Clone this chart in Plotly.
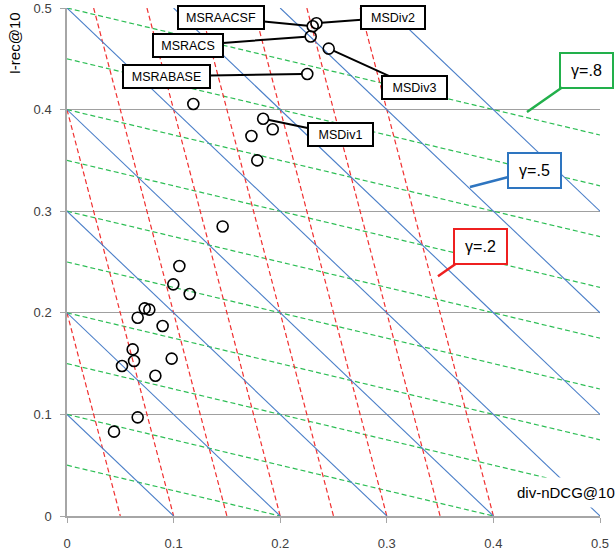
import plotly.graph_objects as go

# ---- data ----
div_ndcg = [0.2305, 0.2340, 0.2286, 0.2455, 0.2254,
            0.1185, 0.1840, 0.1930, 0.1730, 0.1785,
            0.1460, 0.1054, 0.0997, 0.1151,
            0.0729, 0.0772, 0.0663, 0.0897,
            0.0616, 0.0629, 0.0516, 0.0982, 0.0829,
            0.0663, 0.0441]
i_rec = [0.482, 0.485, 0.472, 0.460, 0.435,
         0.4055, 0.391, 0.3806, 0.374, 0.350,
         0.285, 0.246, 0.228, 0.2185,
         0.2044, 0.2031, 0.1952, 0.187,
         0.164, 0.1526, 0.1476, 0.1549, 0.138,
         0.0971, 0.083]

run_names = ["MSRAACSF", "MSDiv2", "MSRACS", "MSDiv3", "MSRABASE", "MSDiv1"]
run_index = [0, 1, 2, 3, 4, 6]

blue_levels = [0.1, 0.2, 0.3, 0.4, 0.5, 0.6, 0.7, 0.8]           # gamma=.5 : x + y = c
red_x_intercepts = [0.05, 0.10, 0.15, 0.20, 0.25, 0.30, 0.35, 0.40]  # gamma=.2
green_y_intercepts = [0.05, 0.10, 0.15, 0.20, 0.25, 0.30, 0.35, 0.40, 0.45, 0.50]  # gamma=.8

x_ticks = [0, 0.1, 0.2, 0.3, 0.4, 0.5]
y_ticks = [0, 0.1, 0.2, 0.3, 0.4, 0.5]

LO, HI = 0.0, 0.5


def clip_line(a, b, c):
    pts = []
    if a:
        for yy in (LO, HI):
            xx = (c - b * yy) / a
            if LO - 1e-9 <= xx <= HI + 1e-9:
                pts.append((xx, yy))
    if b:
        for xx in (LO, HI):
            yy = (c - a * xx) / b
            if LO - 1e-9 <= yy <= HI + 1e-9:
                pts.append((xx, yy))
    uniq = []
    for p in pts:
        if all(abs(p[0] - q[0]) > 1e-9 or abs(p[1] - q[1]) > 1e-9 for q in uniq):
            uniq.append(p)
    uniq.sort()
    return uniq[:1] + uniq[-1:] if len(uniq) >= 2 else []


def family(a, b, cs):
    xs, ys = [], []
    for c in cs:
        seg = clip_line(a, b, c)
        if seg:
            xs += [seg[0][0], seg[1][0], None]
            ys += [seg[0][1], seg[1][1], None]
    return xs, ys


fig = go.Figure()

bx, by = family(0.5, 0.5, [0.5 * c for c in blue_levels])
rx, ry = family(0.8, 0.2, [0.8 * v for v in red_x_intercepts])
gx, gy = family(0.2, 0.8, [0.8 * v for v in green_y_intercepts])

fig.add_trace(go.Scatter(x=gx, y=gy, mode="lines", hoverinfo="skip",
                         line=dict(color="#2DBE55", width=1.2, dash="5px,3px")))
fig.add_trace(go.Scatter(x=rx, y=ry, mode="lines", hoverinfo="skip",
                         line=dict(color="#F03030", width=1.2, dash="5px,3px")))
fig.add_trace(go.Scatter(x=bx, y=by, mode="lines", hoverinfo="skip",
                         line=dict(color="#4A7EC8", width=1.1)))

fig.add_trace(go.Scatter(x=div_ndcg, y=i_rec, mode="markers",
                         marker=dict(symbol="circle-open", size=11,
                                     color="black", line=dict(width=1.6))))

# run labels
label_off = {"MSRAACSF": (-92, -9), "MSDiv2": (77, -6), "MSRACS": (-123, 9),
             "MSRABASE": (-141, 2), "MSDiv3": (86, 39), "MSDiv1": (77, 16)}
label_w = {"MSRAACSF": 80, "MSDiv2": 58, "MSRACS": 64, "MSRABASE": 81,
           "MSDiv3": 59, "MSDiv1": 59}
for name, idx in zip(run_names, run_index):
    ax, ay = label_off[name]
    fig.add_annotation(x=div_ndcg[idx], y=i_rec[idx], text=name,
                       showarrow=True, arrowhead=0, arrowwidth=2, arrowcolor="black",
                       ax=ax, ay=ay, standoff=5,
                       bgcolor="white", bordercolor="black", borderwidth=2,
                       borderpad=2, width=label_w[name], height=17,
                       font=dict(family="Liberation Sans, Arial", size=12.5, color="black"))

# gamma callouts
for txt, col, px, py, ax, ay in [("γ=.8", "#22B04B", 0.4315, 0.3976, 60, -42),
                                  ("γ=.5", "#2E75C0", 0.378, 0.3238, 65, -17),
                                  ("γ=.2", "#EE2020", 0.348, 0.236, 43, -30)]:
    fig.add_annotation(x=px, y=py, text=txt, showarrow=True, arrowhead=0,
                       arrowwidth=2.5, arrowcolor=col, ax=ax, ay=ay,
                       bgcolor="white", bordercolor=col, borderwidth=2,
                       borderpad=3, width=45, height=27,
                       font=dict(family="Liberation Sans, Arial", size=16, color="black"))

# axis titles
fig.add_annotation(xref="paper", yref="paper", x=-0.098, y=0.93, text="I-rec@10",
                   textangle=-90, showarrow=False, xanchor="center", yanchor="middle",
                   font=dict(family="Liberation Sans, Arial", size=15, color="black"))
fig.add_annotation(x=0.4156, y=0.0235, text="div-nDCG@10", showarrow=False,
                   xanchor="left", yanchor="middle", bgcolor="white", borderpad=6,
                   font=dict(family="Liberation Sans, Arial", size=15, color="black"))

fig.update_layout(
    width=615, height=554,
    margin=dict(l=67, r=15, t=8, b=38, autoexpand=False),
    paper_bgcolor="white", plot_bgcolor="white",
    showlegend=False,
    font=dict(family="Liberation Sans, Arial", size=13, color="#404040"),
)
fig.update_xaxes(range=[0, 0.5], tickvals=x_ticks, ticktext=[f"{v:g}" for v in x_ticks],
                 showgrid=False, zeroline=False, showline=True, linecolor="#A6A6A6",
                 linewidth=1.5, ticks="outside", ticklen=5, tickcolor="#A6A6A6",
                 ticklabelstandoff=10, automargin=False)
fig.update_yaxes(range=[0, 0.5], tickvals=y_ticks, ticktext=[f"{v:g}" for v in y_ticks],
                 showgrid=True, gridcolor="#A0A0A0", gridwidth=1, zeroline=False,
                 showline=True, linecolor="#A6A6A6", linewidth=1.5,
                 ticks="outside", ticklen=5, tickcolor="#A6A6A6", ticklabelstandoff=6,
                 automargin=False)

fig.write_html("out.html", config={"displayModeBar": False},
               post_script="document.body.style.margin='0';document.body.style.overflow='hidden';")
